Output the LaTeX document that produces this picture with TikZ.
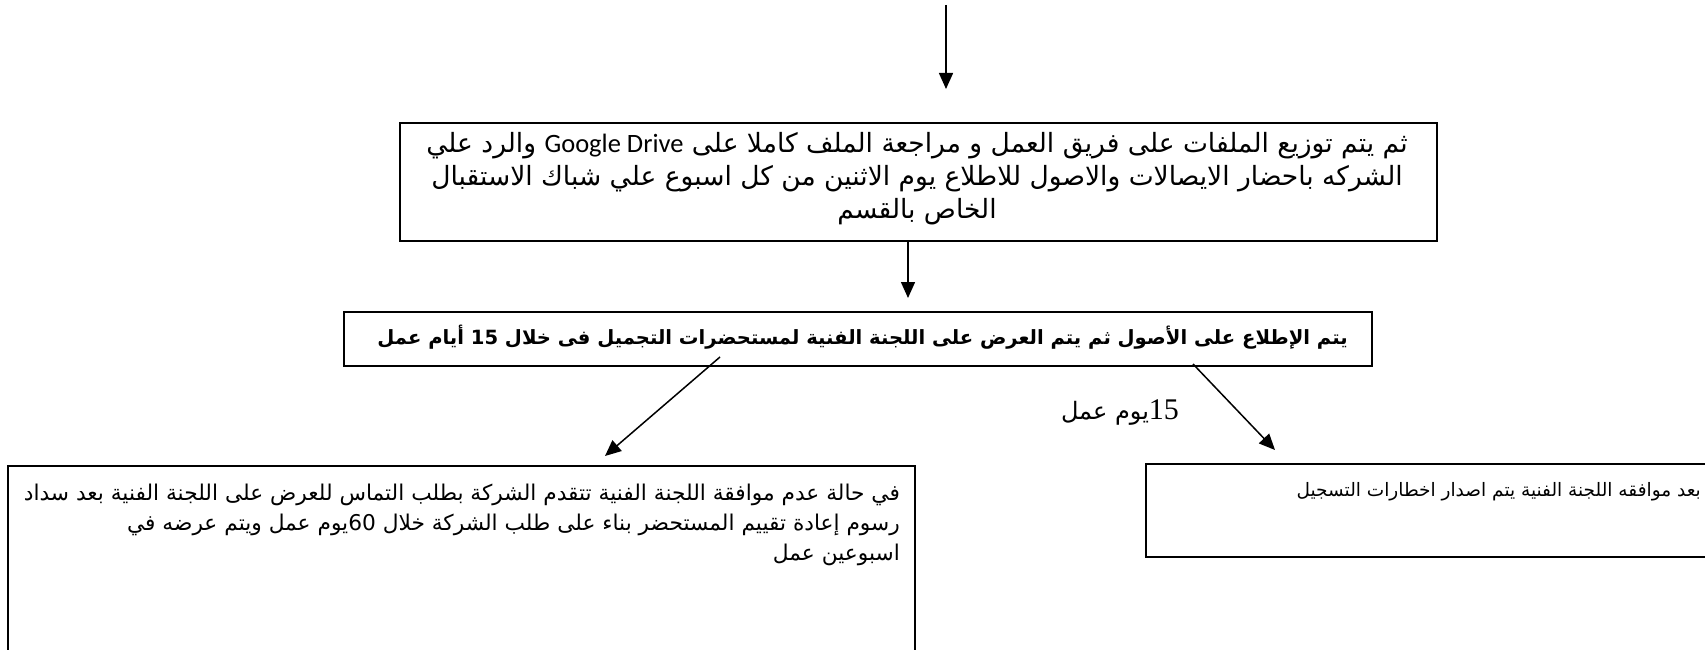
\documentclass[tikz,border=0pt]{standalone}
\usepackage{fontspec}
\setmainfont{DejaVu Sans}
\newfontfamily\ar[Script=Arabic]{DejaVu Sans}
\newfontfamily\lat{Carlito}
\newfontfamily\tnr{Liberation Serif}
\TeXXeTstate=1
\usetikzlibrary{arrows.meta}
\begin{document}
\begin{tikzpicture}[x=1pt,y=-1pt,
  box/.style={draw, line width=1.8pt, inner sep=0pt, anchor=north west},
  arr/.style={line width=1.5pt, -{Triangle[length=16pt,width=14pt]}},
  txt/.style={inner sep=0pt, font=\ar\fontsize{26.5}{33}\selectfont},
  txtb/.style={inner sep=0pt, font=\ar\bfseries\fontsize{19.6}{24}\selectfont}]
\clip (0,0) rectangle (1705,650);
\fill[white] (0,0) rectangle (1705,650);
% boxes
\node[box, minimum width=1037pt, minimum height=118pt] (b1) at (399,122) {};
\node[box, minimum width=1028pt, minimum height=54pt] (b2) at (343,311) {};
\node[box, minimum width=907pt, minimum height=260pt] (b3) at (7,465) {};
\node[box, minimum width=640pt, minimum height=93pt] (b4) at (1145,463) {};
% texts
\node[txt, align=center, anchor=north] (t1) at (917,132) {%
\beginR ثم يتم توزيع الملفات على فريق العمل و مراجعة الملف كاملا على \beginL{\lat Google Drive}\endL{} والرد علي\endR\\
\beginR الشركه باحضار الايصالات والاصول للاطلاع يوم الاثنين من كل اسبوع علي شباك الاستقبال\endR\\
\beginR الخاص بالقسم\endR};
\node[txtb, anchor=east] (t2) at (1348,337) {\beginR يتم الإطلاع على الأصول ثم يتم العرض على اللجنة الفنية لمستحضرات التجميل فى خلال \beginL15\endL{} أيام عمل\endR};
\node[txt, align=right, anchor=north east, font=\ar\fontsize{21.7}{30}\selectfont] (t3) at (900,484) {%
\beginR في حالة عدم موافقة اللجنة الفنية تتقدم الشركة بطلب التماس للعرض على اللجنة الفنية بعد سداد\endR\\
\beginR رسوم إعادة تقييم المستحضر بناء على طلب الشركة خلال \beginL60\endL{}يوم عمل ويتم عرضه في\endR\\
\beginR اسبوعين عمل\endR};
\node[txt, anchor=east, font=\ar\fontsize{18.5}{30}\selectfont] (t4) at (1701,492) {\beginR بعد موافقه اللجنة الفنية يتم اصدار اخطارات التسجيل\endR};
\node[inner sep=0pt, font=\ar\fontsize{24}{28}\selectfont] (t5) at (1120,413) {\beginR\beginL{\tnr\fontsize{30}{30}\selectfont 15}\endL{}يوم عمل\endR};
% connectors
\coordinate (top) at (946,5);
\draw[arr, shorten >=33pt] (top) -- (top |- b1.north);
\draw[arr, shorten >=13pt] (b1.south -| 908,0) -- (b2.north -| 908,0);
\coordinate (la) at (720,357);
\coordinate (lb) at (605,456);
\draw[arr] (la) -- (lb);
\coordinate (ra) at (1193,364);
\coordinate (rb) at (1275,450);
\draw[arr] (ra) -- (rb);
\end{tikzpicture}
\end{document}
